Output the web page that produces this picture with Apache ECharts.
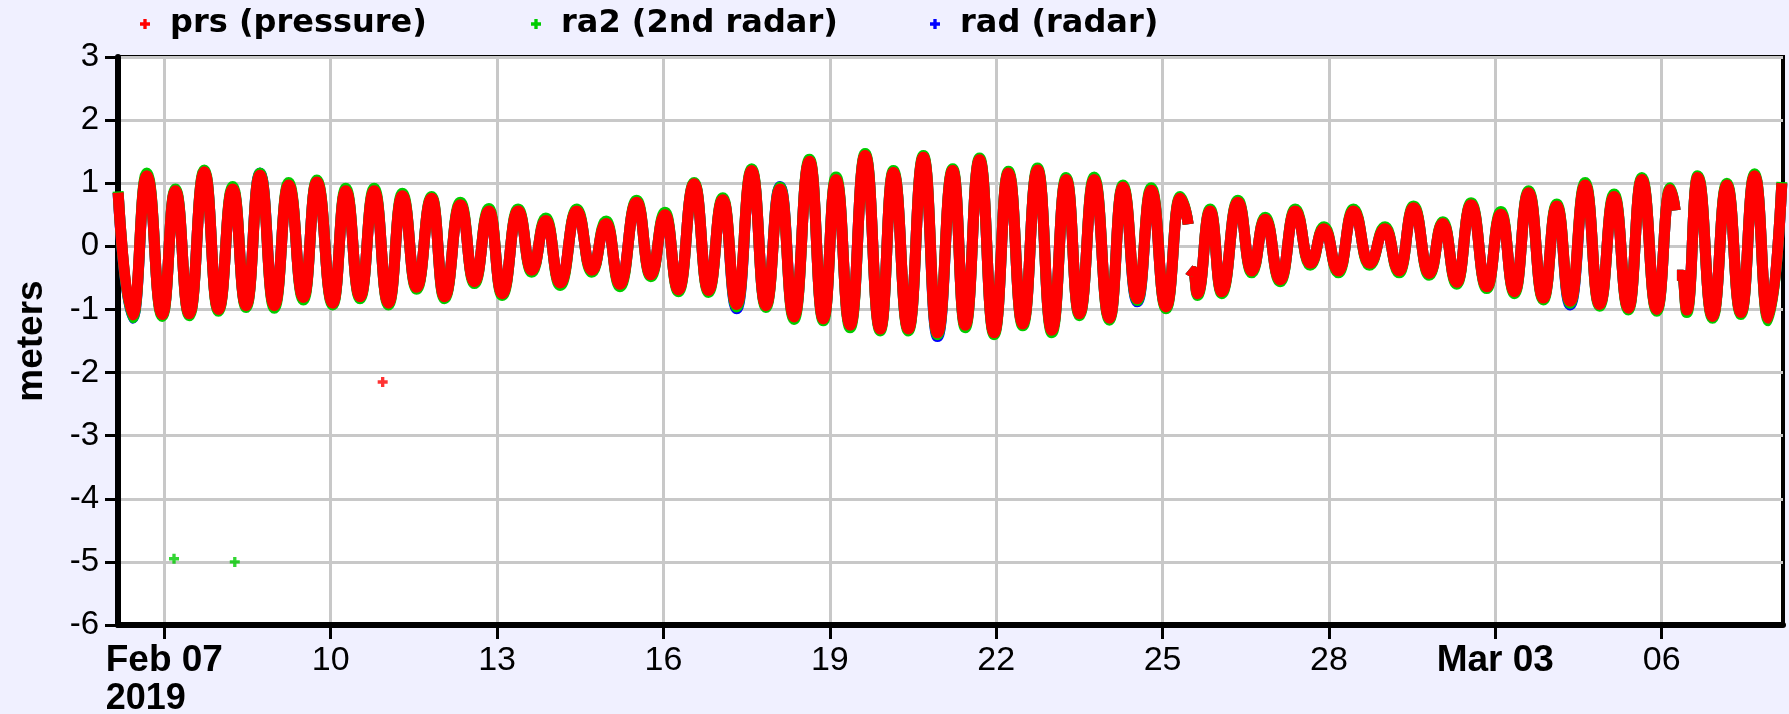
<!DOCTYPE html>
<html><head><meta charset="utf-8">
<script src="https://cdn.jsdelivr.net/npm/echarts@6/dist/echarts.min.js"></script>
<style>html,body{margin:0;padding:0;background:#F0F0FF}#c{width:1789px;height:714px}</style>
</head><body><div id="c"></div>
<script>
// time of each observation, hours since 2019-02-07 00:00
const obsHours = [
 -20.0,-13.7,-7.6,-0.9,4.8,10.8,17.3,23.4,29.6,35.4,
 41.4,47.6,53.8,60.2,66.0,72.9,78.5,84.7,90.8,97.0,
 103.0,109.2,115.7,121.2,128.1,134.2,140.5,146.2,153.1,159.0,
 165.1,171.3,178.5,185.0,191.2,197.2,204.4,210.5,216.7,222.5,
 229.3,235.5,241.7,247.7,254.2,260.3,266.5,272.5,279.2,285.2,
 290.7,296.8,303.3,309.8,315.5,322.0,328.5,334.6,341.2,346.6,
 352.8,359.1,365.3,371.5,377.9,384.1,390.3,396.0,402.4,409.0,
 414.8,421.1,427.1,433.5,439.6,443.1,443.2,443.4,445.4,447.1,
 452.6,457.6,464.6,470.6,476.4,482.9,489.4,495.9,501.9,508.1,
 514.6,521.5,528.3,534.4,540.6,547.4,553.3,559.3,565.5,572.3,
 578.4,584.3,590.4,596.8,602.6,608.4,614.9,621.1,627.4,633.6,
 639.4,645.9,651.7,653.8,654.2,654.6,657.0,658.9,663.6,670.0,
 676.2,682.3,688.2,694.2,700.0
];
const prsValues = [
 0.85,-1.09,1.12,-1.08,0.88,-1.07,1.18,-1.00,0.91,-0.94,
 1.13,-0.94,0.97,-0.81,1.02,-0.90,0.88,-0.80,0.88,-0.90,
 0.80,-0.65,0.76,-0.80,0.66,-0.56,0.56,-0.75,0.56,-0.38,
 0.41,-0.58,0.56,-0.38,0.36,-0.60,0.70,-0.45,0.50,-0.69,
 0.99,-0.70,0.74,-0.92,1.20,-0.94,0.91,-1.12,1.35,-1.15,
 1.06,-1.25,1.44,-1.31,1.17,-1.31,1.41,-1.37,1.20,-1.25,
 1.37,-1.37,1.16,-1.23,1.21,-1.33,1.06,-1.07,1.06,-1.14,
 0.94,-0.83,0.89,-0.96,0.76,0.35,null,-0.37,-0.40,-0.75,
 0.56,-0.72,0.70,-0.39,0.43,-0.53,0.56,-0.27,0.28,-0.39,
 0.56,-0.27,0.28,-0.39,0.61,-0.43,0.36,-0.57,0.66,-0.64,
 0.51,-0.72,0.85,-0.82,0.64,-0.87,0.97,-0.92,0.79,-0.98,
 1.06,-1.00,0.90,0.57,null,-0.46,-0.46,-1.01,1.09,-1.11,
 0.97,-1.05,1.12,-1.14,1.00
];
const ra2Values = [
 0.87,-1.13,1.16,-1.11,0.91,-1.10,1.21,-1.03,0.95,-0.97,
 1.16,-0.98,1.01,-0.85,1.05,-0.93,0.92,-0.83,0.92,-0.93,
 0.84,-0.68,0.79,-0.83,0.70,-0.59,0.60,-0.78,0.59,-0.41,
 0.45,-0.62,0.59,-0.41,0.40,-0.64,0.73,-0.48,0.54,-0.72,
 1.01,-0.73,0.77,-0.96,1.23,-0.97,0.94,-1.16,1.38,-1.18,
 1.10,-1.29,1.47,-1.34,1.20,-1.34,1.44,-1.40,1.23,-1.29,
 1.40,-1.40,1.19,-1.26,1.24,-1.37,1.09,-1.10,1.10,-1.17,
 0.97,-0.86,0.93,-0.99,0.79,0.35,null,-0.37,-0.40,-0.78,
 0.59,-0.75,0.73,-0.42,0.46,-0.56,0.59,-0.30,0.31,-0.42,
 0.59,-0.30,0.31,-0.42,0.64,-0.46,0.39,-0.60,0.69,-0.67,
 0.55,-0.75,0.88,-0.85,0.67,-0.90,1.01,-0.95,0.83,-1.01,
 1.09,-1.03,0.93,0.57,null,-0.46,-0.46,-1.05,1.12,-1.14,
 1.00,-1.08,1.15,-1.18,1.02
];
const radValues = [
 0.85,-1.14,1.12,-1.08,0.88,-1.07,1.18,-1.00,0.91,-0.94,
 1.16,-0.94,0.97,-0.81,1.02,-0.90,0.88,-0.80,0.88,-0.90,
 0.80,-0.65,0.76,-0.80,0.66,-0.56,0.56,-0.75,0.56,-0.38,
 0.41,-0.58,0.56,-0.38,0.36,-0.60,0.70,-0.45,0.50,-0.69,
 0.99,-0.70,0.74,-0.99,1.20,-0.94,0.95,-1.12,1.35,-1.15,
 1.06,-1.25,1.44,-1.31,1.17,-1.31,1.41,-1.43,1.20,-1.25,
 1.37,-1.37,1.16,-1.23,1.21,-1.33,1.06,-1.07,1.06,-1.14,
 0.94,-0.88,0.89,-0.96,0.76,0.35,null,-0.37,-0.40,-0.75,
 0.56,-0.72,0.70,-0.39,0.43,-0.53,0.56,-0.27,0.28,-0.39,
 0.56,-0.27,0.28,-0.39,0.61,-0.43,0.36,-0.57,0.66,-0.64,
 0.51,-0.72,0.85,-0.82,0.64,-0.93,0.97,-0.92,0.79,-0.98,
 1.06,-1.00,0.90,0.57,null,-0.46,-0.46,-1.01,1.09,-1.11,
 0.97,-1.05,1.12,-1.14,1.00
];
const prsOutlierHours = [94.5];
const prsOutlierValues = [-2.15];
const ra2OutlierHours = [4.2, 30.5];
const ra2OutlierValues = [-4.95, -5.0];

const xTickHours = [0, 72, 144, 216, 288, 360, 432, 504, 576, 648];
const xTickLabels = ['Feb 07', '10', '13', '16', '19', '22', '25', '28', 'Mar 03', '06'];
const xYearLabel = '2019';
const xMinHour = -20.04, xMaxHour = 700.5;
const yMin = -6, yMax = 3, yStep = 1;

const seriesNames = ['prs (pressure)', 'ra2 (2nd radar)', 'rad (radar)'];
const seriesColors = ['#FF0000', '#00CC00', '#0000FF'];

const plus = 'path://M3,0H6V3H9V6H6V9H3V6H0V3H3Z';
const pairs = (hs, vs) => hs.map((h, i) => [h, vs[i] === null ? '-' : vs[i]]);

const legendText = {fontSize: 32, fontWeight: 'bold', fontFamily: 'DejaVu Sans', color: '#000'};
const legendLefts = [140, 531, 930];

const lineSeries = (idx, vals) => ({
  name: seriesNames[idx], type: 'line', data: pairs(obsHours, vals),
  showSymbol: false, symbol: 'none', smooth: 0.5, smoothMonotone: 'x',
  connectNulls: false, clip: true,
  lineStyle: {color: seriesColors[idx], width: 11, join: 'round'},
  itemStyle: {color: seriesColors[idx]}
});

const chart = echarts.init(document.getElementById('c'), null, {renderer: 'canvas'});
chart.setOption({
  animation: false,
  backgroundColor: '#F0F0FF',
  legend: seriesNames.map((n, i) => ({
    data: [{name: n, icon: plus, itemStyle: {color: seriesColors[i]}}],
    left: legendLefts[i], top: 8, itemWidth: 40, itemHeight: 10,
    selectedMode: false, textStyle: legendText, padding: 0
  })),
  grid: {left: 118, right: 6, top: 57, bottom: 89, show: true, backgroundColor: '#FFFFFF',
         borderColor: '#000', borderWidth: 4, containLabel: false, outerBoundsMode: 'none'},
  xAxis: {
    type: 'value', min: xMinHour, max: xMaxHour,
    axisLine: {show: true, onZero: false, lineStyle: {color: '#000', width: 6}},
    axisTick: {show: true, customValues: xTickHours, length: 14, lineStyle: {color: '#000', width: 3}},
    splitLine: {show: true, lineStyle: {color: '#C8C8C8', width: 3}},
    axisLabel: {
      customValues: xTickHours, margin: 16,
      formatter: function (v) {
        const i = xTickHours.findIndex(h => Math.abs(h - v) < 1e-6);
        if (i < 0) return '';
        const t = xTickLabels[i];
        if (i === 0) return '{b|' + t + '}\n{y|' + xYearLabel + '}';
        if (/[A-Za-z]/.test(t)) return '{b|' + t + '}';
        return '{n|' + t + '}';
      },
      rich: {
        n: {fontSize: 34, fontFamily: 'Liberation Sans', color: '#000', lineHeight: 39},
        b: {fontSize: 37, fontWeight: 'bold', fontFamily: 'Liberation Sans', color: '#000', lineHeight: 39},
        y: {fontSize: 36, fontWeight: 'bold', fontFamily: 'Liberation Sans', color: '#000', lineHeight: 39, align: 'left'}
      }
    }
  },
  yAxis: {
    type: 'value', min: yMin, max: yMax, interval: yStep,
    name: 'meters', nameLocation: 'middle', nameGap: 68,
    nameTextStyle: {fontSize: 37, fontWeight: 'bold', fontFamily: 'Liberation Sans', color: '#000'},
    axisLine: {show: true, onZero: false, lineStyle: {color: '#000', width: 6}},
    axisTick: {show: true, length: 13, lineStyle: {color: '#000', width: 3}},
    splitLine: {show: true, lineStyle: {color: '#C8C8C8', width: 3}},
    axisLabel: {fontSize: 33, fontFamily: 'Liberation Sans', color: '#000', margin: 19}
  },
  series: [
    lineSeries(2, radValues),
    lineSeries(1, ra2Values),
    lineSeries(0, prsValues),
    {name: seriesNames[1], type: 'scatter', data: pairs(ra2OutlierHours, ra2OutlierValues),
     symbol: plus, symbolSize: 10, itemStyle: {color: seriesColors[1]}},
    {name: seriesNames[0], type: 'scatter', data: pairs(prsOutlierHours, prsOutlierValues),
     symbol: plus, symbolSize: 10, itemStyle: {color: seriesColors[0]}}
  ]
});
</script></body></html>
